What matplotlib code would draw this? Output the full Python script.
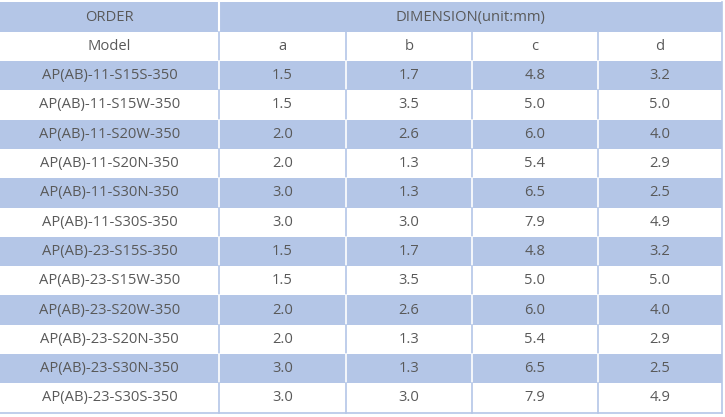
import matplotlib.pyplot as plt
from matplotlib.patches import Rectangle

models = [
    "AP(AB)-11-S15S-350", "AP(AB)-11-S15W-350", "AP(AB)-11-S20W-350",
    "AP(AB)-11-S20N-350", "AP(AB)-11-S30N-350", "AP(AB)-11-S30S-350",
    "AP(AB)-23-S15S-350", "AP(AB)-23-S15W-350", "AP(AB)-23-S20W-350",
    "AP(AB)-23-S20N-350", "AP(AB)-23-S30N-350", "AP(AB)-23-S30S-350",
]
dim_a = ["1.5", "1.5", "2.0", "2.0", "3.0", "3.0", "1.5", "1.5", "2.0", "2.0", "3.0", "3.0"]
dim_b = ["1.7", "3.5", "2.6", "1.3", "1.3", "3.0", "1.7", "3.5", "2.6", "1.3", "1.3", "3.0"]
dim_c = ["4.8", "5.0", "6.0", "5.4", "6.5", "7.9", "4.8", "5.0", "6.0", "5.4", "6.5", "7.9"]
dim_d = ["3.2", "5.0", "4.0", "2.9", "2.5", "4.9", "3.2", "5.0", "4.0", "2.9", "2.5", "4.9"]
sub_header = ["Model", "a", "b", "c", "d"]

W, H = 725, 417
col_x = [0, 219, 346, 472, 598, 722]
row_h = 29.3
top = 2.4
blue = "#b4c6e7"
line = "#b4c6e7"
txt = "#595959"

fig = plt.figure(figsize=(W / 100, H / 100), dpi=100)
ax = fig.add_axes([0, 0, 1, 1])
ax.set_xlim(0, W)
ax.set_ylim(H, 0)
ax.axis("off")


def cell(x0, x1, r, text, fill):
    y0 = top + r * row_h
    if fill:
        ax.add_patch(Rectangle((x0, y0), x1 - x0, row_h, facecolor=blue, edgecolor="none"))
    ax.text((x0 + x1) / 2, y0 + row_h / 2, text, ha="center", va="center",
            fontsize=10.6, color=txt, family="Open Sans")


# header row
cell(col_x[0], col_x[1], 0, "ORDER", True)
cell(col_x[1], col_x[5], 0, "DIMENSION(unit:mm)", True)
ax.plot([col_x[1]] * 2, [top, top + row_h], color="white", lw=1.5)

rows = [sub_header] + [list(r) for r in zip(models, dim_a, dim_b, dim_c, dim_d)]
for i, vals in enumerate(rows):
    r = i + 1
    fill = r % 2 == 0
    for j, v in enumerate(vals):
        cell(col_x[j], col_x[j + 1], r, v, fill)
    y0 = top + r * row_h
    for x in col_x[1:-1]:
        ax.plot([x, x], [y0, y0 + row_h], color="white" if fill else line, lw=1.2)

bottom = top + 14 * row_h
ax.plot([col_x[-1]] * 2, [top, bottom], color=line, lw=1.2)
ax.plot([0, col_x[-1]], [bottom, bottom], color=line, lw=1.2)

fig.savefig("out.png", dpi=100)
